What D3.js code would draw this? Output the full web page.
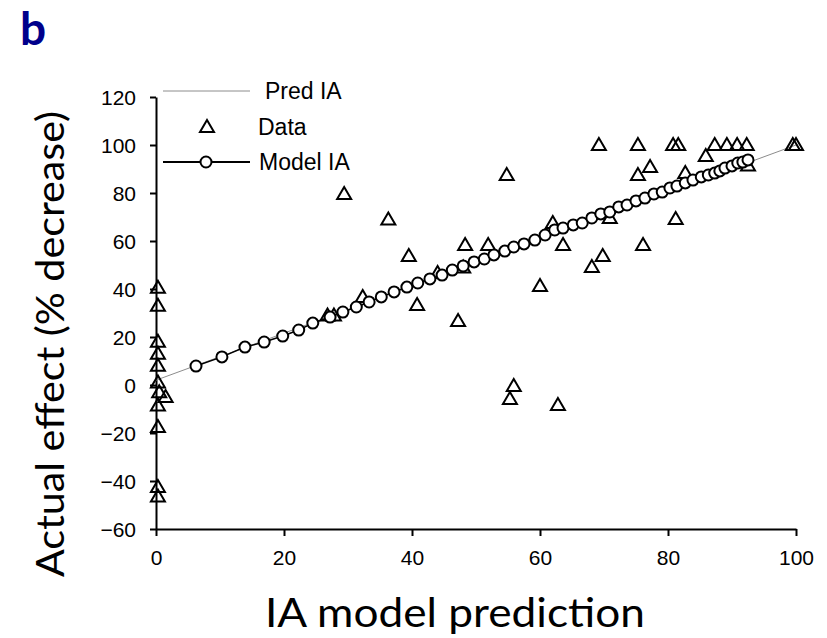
<!DOCTYPE html>
<html><head><meta charset="utf-8">
<script src="https://cdn.jsdelivr.net/npm/d3@7"></script>
<style>body{margin:0;background:#fff}svg{display:block}</style>
</head><body>
<svg id="c" width="827" height="638"></svg>
<script>
// ---- data ----
const xTicks = [0, 20, 40, 60, 80, 100];
const yTicks = [-60, -40, -20, 0, 20, 40, 60, 80, 100, 120];
const predX = [0, 100];
const predY = [2, 100];
const modelX = [6.25,10.3,13.9,16.9,19.8,22.3,24.5,27.2,29.2,31.3,33.3,35.2,37.2,39.2,40.9,42.8,44.7,46.3,48.0,49.7,51.3,52.8,54.5,55.9,57.5,59.2,60.8,62.3,63.6,65.2,66.6,68.1,69.5,70.9,72.3,73.6,75.0,76.4,77.8,79.1,80.3,81.4,82.7,83.9,85.2,86.3,87.3,88.1,88.9,90.0,90.9,91.7,92.5];
const modelY = [7.9,11.7,15.8,17.9,20.4,22.9,25.8,28.3,30.4,32.5,34.6,36.7,38.8,40.8,42.5,44.2,45.8,47.9,49.6,51.3,52.5,54.2,55.8,57.5,58.8,60.4,62.5,64.6,65.4,66.7,67.5,69.6,71.3,72.1,74.2,75.0,76.7,77.9,79.6,80.4,82.1,82.9,84.2,85.4,86.7,87.5,88.3,89.2,90.4,91.3,92.5,92.9,93.8];
const dataX = [0.3,0.3,0.3,0.3,0.3,0.3,0.5,1.5,0.3,0.3,0.3,0.3,
  26.8,27.8,32.3,29.4,36.3,39.5,40.8,44.0,47.2,48.0,48.3,51.9,54.8,55.3,55.9,60.0,62.0,62.8,63.6,68.1,69.2,69.8,70.9,75.3,75.3,76.1,77.2,80.8,81.2,81.6,82.7,85.9,87.3,89.2,90.8,92.3,92.5,99.5,100];
const dataY = [40.5,33,18,13,8,1,-3,-5,-8.5,-17.5,-42.5,-46.5,
  29,29,36.7,79.6,69,53.8,33.3,46.7,26.7,49,58.3,58.3,87.5,-5.8,-0.4,41.3,67.5,-8.3,58.3,49.2,100,53.8,69.6,100,87.5,58.3,90.8,100,69.2,100,88.3,95.4,100,100,100,100,91.5,100,100];
const legendLabels = ["Pred IA", "Data", "Model IA"];

// ---- chart ----
const svg = d3.select("#c");
const x = d3.scaleLinear().domain([0, 100]).range([156, 796]);
const y = d3.scaleLinear().domain([-60, 120]).range([529, 97]);

// axes
const xa = svg.append("g").attr("transform", "translate(0,529)")
  .call(d3.axisBottom(x).tickValues(xTicks).tickSizeInner(7).tickSizeOuter(0).tickPadding(14));
const ya = svg.append("g").attr("transform", "translate(156,0)")
  .call(d3.axisLeft(y).tickValues(yTicks).tickSizeInner(6).tickSizeOuter(0).tickPadding(14));
[xa, ya].forEach(g => {
  g.select(".domain").attr("stroke", "#000").attr("stroke-width", 2);
  g.selectAll(".tick line").attr("stroke", "#000").attr("stroke-width", 2);
  g.selectAll(".tick text").attr("fill", "#000")
    .style("font-family", "'Liberation Sans', Arial, sans-serif").style("font-size", "21px");
});
ya.selectAll(".tick text").attr("dy", "0.35em");

// pred line
const predPts = predX.map((d, i) => [d, predY[i]]);
svg.append("path").attr("d", d3.line().x(d => x(d[0])).y(d => y(d[1]))(predPts))
  .attr("stroke", "#8c8c8c").attr("stroke-width", 1).attr("fill", "none");

// triangles
const tri = "M0,-7L7,5L-7,5Z";
const dataPts = dataX.map((d, i) => [d, dataY[i]]);
svg.append("g").selectAll("path").data(dataPts).join("path")
  .attr("d", tri).attr("transform", d => `translate(${x(d[0])},${y(d[1])})`)
  .attr("fill", "none").attr("stroke", "#000").attr("stroke-width", 2);

// model line + circles
const modelPts = modelX.map((d, i) => [d, modelY[i]]);
svg.append("path").attr("d", d3.line().x(d => x(d[0])).y(d => y(d[1]))(modelPts))
  .attr("stroke", "#000").attr("stroke-width", 1.5).attr("fill", "none");
svg.append("g").selectAll("circle").data(modelPts).join("circle")
  .attr("cx", d => x(d[0])).attr("cy", d => y(d[1])).attr("r", 5.5)
  .attr("fill", "#fff").attr("stroke", "#000").attr("stroke-width", 2);

// legend
const lg = svg.append("g");
lg.append("line").attr("x1", 163).attr("x2", 250).attr("y1", 91).attr("y2", 91)
  .attr("stroke", "#8c8c8c").attr("stroke-width", 1);
lg.append("path").attr("d", tri).attr("transform", "translate(207,127)")
  .attr("fill", "none").attr("stroke", "#000").attr("stroke-width", 2);
lg.append("line").attr("x1", 163).attr("x2", 250).attr("y1", 162).attr("y2", 162)
  .attr("stroke", "#000").attr("stroke-width", 2);
lg.append("circle").attr("cx", 206).attr("cy", 162).attr("r", 5.5)
  .attr("fill", "#fff").attr("stroke", "#000").attr("stroke-width", 2);
const lgX = [265, 258, 259], lgY = [99, 135, 170];
lg.selectAll("text").data(legendLabels).join("text")
  .attr("x", (d, i) => lgX[i]).attr("y", (d, i) => lgY[i]).text(d => d)
  .style("font-family", "'Liberation Sans', Arial, sans-serif").style("font-size", "23px").attr("fill", "#000");

// titles
svg.append("text").attr("x", 455).attr("y", 627).attr("text-anchor", "middle")
  .attr("textLength", 380).attr("lengthAdjust", "spacingAndGlyphs")
  .style("font-family", "Lato, 'Open Sans', sans-serif").style("font-size", "40px").text("IA model prediction");
svg.append("text").attr("transform", "translate(64,344) rotate(-90)").attr("text-anchor", "middle")
  .attr("textLength", 466).attr("lengthAdjust", "spacingAndGlyphs")
  .style("font-family", "Lato, 'Open Sans', sans-serif").style("font-size", "38px").text("Actual effect (% decrease)");
svg.append("text").attr("x", 20).attr("y", 45)
  .style("font-family", "Lato, 'Open Sans', sans-serif").style("font-weight", "bold")
  .style("font-size", "46px").attr("fill", "#00008b").text("b");
</script>
</body></html>
